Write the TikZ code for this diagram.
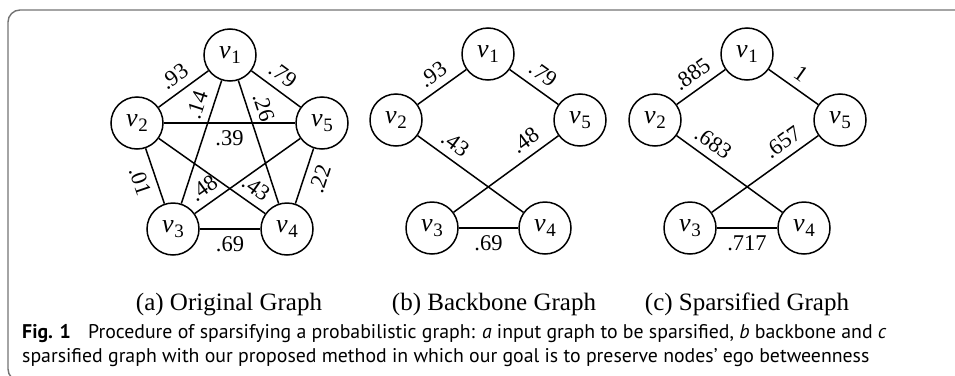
\documentclass[tikz,border=0pt]{standalone}
\usepackage{fontspec}
\setmainfont{Liberation Serif}
\newfontfamily\capfont{PT Sans}
% vertex label: italic v with a lowered index
\newcommand{\vlab}[1]{\textit{v}\kern0.5pt\raisebox{-0.2em}{\fontsize{19}{19}\selectfont #1}}
\begin{document}
\begin{tikzpicture}[x=1pt,y=-1pt,
  vert/.style={circle, draw, line width=1.5pt, minimum size=52pt, inner sep=0pt,
    font=\rmfamily\fontsize{26}{26}\selectfont},
  link/.style={line width=1.5pt},
  wt/.style={sloped, font=\rmfamily\fontsize{22.5}{22.5}\selectfont, inner sep=0.3333em},
  wab/.style={wt, above=4pt},
  wbe/.style={wt, below=4pt},
  sub/.style={anchor=base, font=\rmfamily\fontsize{25}{25}\selectfont},
  capline/.style={anchor=base west, inner sep=0pt, font=\capfont\fontsize{19.8}{19.8}\selectfont},
  frame/.style={draw=black!55, line width=1.4pt, rounded corners=12pt}]
\useasboundingbox (0,0) rectangle (955,375);
\clip (0,0) rectangle (955,375);
% open frame: top edge, rounded top-left corner, left edge
\draw[frame] (970,10) -- (8,10) -- (8,381) -- (40,381);

% (a) original graph
\begin{scope}
\node[vert] (a1) at (230,55) {\vlab{1}};
\node[vert] (a2) at (137,123) {\vlab{2}};
\node[vert] (a5) at (322,123) {\vlab{5}};
\node[vert] (a3) at (173,229) {\vlab{3}};
\node[vert] (a4) at (287,229) {\vlab{4}};
\draw[link] (a2) -- node[wab] {.93} (a1);
\draw[link] (a1) -- node[wab, pos=0.45] {.79} (a5);
\draw[link] (a1) -- node[wab, pos=0.24] {.14} (a3);
\draw[link] (a1) -- node[wab, pos=0.26] {.26} (a4);
\draw[link] (a2) -- node[wbe] {.39} (a5);
\draw[link] (a2) -- node[wbe] {.01} (a3);
\draw[link] (a5) -- node[wbe, pos=0.47] {.22} (a4);
\draw[link] (a3) -- node[wab, pos=0.17] {.48} (a5);
\draw[link] (a2) -- node[wab, pos=0.83] {.43} (a4);
\draw[link] (a3) -- node[wbe] {.69} (a4);
\node[sub] (capa) at (229,310) {(a) Original Graph};
\end{scope}

% (b) backbone graph
\begin{scope}
\node[vert] (b1) at (488,54) {\vlab{1}};
\node[vert] (b2) at (396,120) {\vlab{2}};
\node[vert] (b5) at (580,120) {\vlab{5}};
\node[vert] (b3) at (432,228) {\vlab{3}};
\node[vert] (b4) at (545,228) {\vlab{4}};
\draw[link] (b2) -- node[wab] {.93} (b1);
\draw[link] (b1) -- node[wab] {.79} (b5);
\draw[link] (b2) -- node[wab, pos=0.27] {.43} (b4);
\draw[link] (b3) -- node[wab, pos=0.77] {.48} (b5);
\draw[link] (b3) -- node[wbe] {.69} (b4);
\node[sub] (capb) at (494,310) {(b) Backbone Graph};
\end{scope}

% (c) sparsified graph
\begin{scope}
\node[vert] (c1) at (747,54) {\vlab{1}};
\node[vert] (c2) at (655,120) {\vlab{2}};
\node[vert] (c5) at (840,120) {\vlab{5}};
\node[vert] (c3) at (690,228) {\vlab{3}};
\node[vert] (c4) at (804,228) {\vlab{4}};
\draw[link] (c2) -- node[wab] {.885} (c1);
\draw[link] (c1) -- node[wab, pos=0.47] {1} (c5);
\draw[link] (c2) -- node[wab, pos=0.26] {.683} (c4);
\draw[link] (c3) -- node[wab, pos=0.75] {.657} (c5);
\draw[link] (c3) -- node[wbe] {.717} (c4);
\node[sub] (capc) at (747,310) {(c) Sparsified Graph};
\end{scope}

% figure caption
\node[capline] (fig1) at (22,338) {\textbf{Fig. 1}\hspace{0.6em} Procedure of sparsifying a probabilistic graph: \textit{a} input graph to be sparsified, \textit{b} backbone and \textit{c}};
\node[capline] (fig2) at (22,362) {sparsified graph with our proposed method in which our goal is to preserve nodes’ ego betweenness};
\end{tikzpicture}
\end{document}
